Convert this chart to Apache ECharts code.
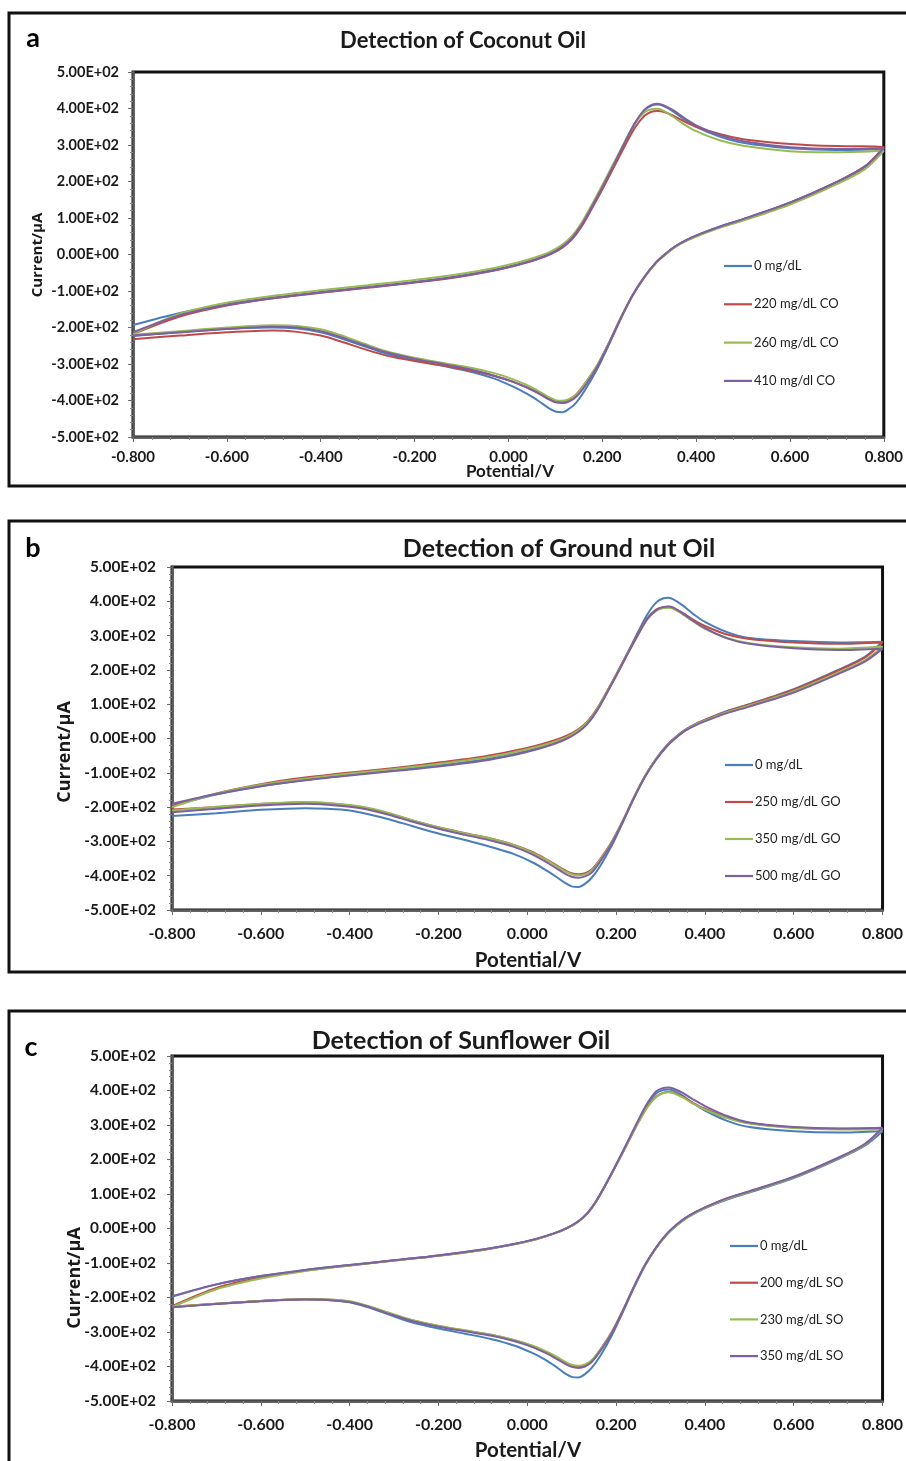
<!DOCTYPE html>
<html><head><meta charset="utf-8">
<script src="https://cdn.jsdelivr.net/npm/echarts@6/dist/echarts.min.js"></script>
<style>html,body{margin:0;padding:0;background:#fff}#c{width:906px;height:1461px}</style>
</head><body><div id="c"></div>
<script>
// ---------- DATA ----------
// forward scan potentials (V) and reverse scan potentials (V)
const FWD_X = [-0.80, -0.70, -0.60, -0.50, -0.40, -0.30, -0.20, -0.10, -0.03, 0.02, 0.06, 0.09, 0.115, 0.135, 0.155, 0.175, 0.20, 0.225, 0.25, 0.27, 0.29, 0.305, 0.318, 0.33, 0.35, 0.375, 0.40, 0.45, 0.50, 0.60, 0.70, 0.80];
const REV_X = [0.80, 0.76, 0.70, 0.60, 0.50, 0.45, 0.41, 0.38, 0.355, 0.335, 0.315, 0.29, 0.265, 0.24, 0.215, 0.19, 0.165, 0.145, 0.13, 0.115, 0.10, 0.085, 0.065, 0.04, 0.01, -0.03, -0.08, -0.14, -0.20, -0.26, -0.31, -0.36, -0.40, -0.45, -0.50, -0.60, -0.70, -0.80];

const Y_TICKS = [-500, -400, -300, -200, -100, 0, 100, 200, 300, 400, 500];
const Y_TICK_LABELS = ['-5.00E+02', '-4.00E+02', '-3.00E+02', '-2.00E+02', '-1.00E+02', '0.00E+00', '1.00E+02', '2.00E+02', '3.00E+02', '4.00E+02', '5.00E+02'];
const X_TICKS = [-0.8, -0.6, -0.4, -0.2, 0, 0.2, 0.4, 0.6, 0.8];
const X_TICK_LABELS = ['-0.800', '-0.600', '-0.400', '-0.200', '0.000', '0.200', '0.400', '0.600', '0.800'];

const PANEL_TITLES = ['Detection of Coconut Oil', 'Detection of Ground nut Oil', 'Detection of Sunflower Oil'];
const PANEL_LETTERS = ['a', 'b', 'c'];
const A_NAMES = ['0 mg/dL', '220 mg/dL CO', '260 mg/dL CO', '410 mg/dl CO'];
const B_NAMES = ['0 mg/dL', '250 mg/dL GO', '350 mg/dL GO', '500 mg/dL GO'];
const C_NAMES = ['0 mg/dL', '200 mg/dL SO', '230 mg/dL SO', '350 mg/dL SO'];

// Panel a (Coconut oil) — current in µA
const A_BLUE_FWD = [-193, -160, -136, -118, -103, -89, -75, -58, -42, -27, -12, 3, 22, 45, 80, 125, 185, 248, 312, 360, 395, 408, 411, 407, 393, 370, 350, 323, 306, 291, 286, 290];
const A_BLUE_REV = [290, 240, 198, 142, 97, 76, 57, 40, 22, 2, -22, -62, -112, -175, -245, -312, -368, -405, -422, -432, -430, -420, -402, -382, -362, -340, -321, -305, -290, -272, -250, -228, -213, -203, -200, -204, -213, -223];
const A_RED_FWD = [-218, -170, -140, -120, -105, -91, -77, -60, -44, -29, -14, 1, 19, 41, 75, 119, 178, 240, 302, 348, 380, 391, 393, 391, 381, 364, 350, 330, 316, 303, 297, 295];
const A_RED_REV = [295, 242, 199, 142, 96, 75, 56, 39, 21, 1, -22, -61, -110, -172, -240, -302, -350, -383, -397, -403, -401, -393, -379, -364, -349, -333, -318, -304, -292, -277, -258, -237, -222, -212, -208, -213, -222, -232];
const A_GREEN_FWD = [-218, -162, -132, -113, -98, -84, -70, -53, -37, -22, -7, 8, 27, 50, 85, 130, 190, 252, 314, 360, 390, 398, 399, 394, 378, 356, 338, 313, 298, 283, 280, 284];
const A_GREEN_REV = [284, 234, 193, 137, 93, 73, 54, 38, 20, 0, -23, -62, -110, -172, -240, -302, -350, -384, -396, -401, -399, -390, -375, -358, -342, -325, -310, -297, -283, -265, -243, -220, -205, -196, -194, -200, -210, -220];
const A_PURPLE_FWD = [-213, -166, -138, -119, -104, -90, -76, -59, -43, -28, -13, 2, 21, 44, 79, 124, 184, 247, 312, 361, 397, 410, 413, 409, 396, 374, 354, 327, 310, 294, 289, 292];
const A_PURPLE_REV = [292, 241, 199, 142, 97, 76, 57, 40, 22, 2, -21, -61, -111, -173, -242, -306, -357, -389, -402, -407, -405, -396, -381, -365, -349, -332, -315, -300, -286, -268, -247, -225, -210, -200, -198, -204, -213, -222];

// Panel b (Ground nut oil)
const B_BLUE_FWD = [-195, -163, -139, -121, -106, -93, -79, -62, -45, -30, -14, 2, 21, 44, 79, 124, 184, 247, 312, 361, 396, 408, 410, 405, 388, 362, 340, 310, 293, 284, 280, 282];
const B_BLUE_REV = [282, 238, 200, 144, 100, 80, 60, 43, 25, 5, -19, -59, -110, -174, -245, -313, -370, -406, -424, -433, -431, -421, -403, -382, -360, -337, -317, -296, -277, -255, -236, -220, -210, -205, -203, -208, -218, -226];
const B_RED_FWD = [-197, -160, -133, -114, -99, -86, -70, -53, -36, -21, -6, 9, 27, 49, 83, 127, 186, 247, 307, 350, 376, 383, 384, 380, 366, 345, 328, 303, 290, 280, 276, 280];
const B_RED_REV = [280, 236, 198, 142, 99, 79, 59, 42, 24, 4, -20, -60, -110, -172, -240, -302, -350, -382, -393, -396, -393, -384, -369, -350, -330, -310, -292, -276, -259, -238, -219, -203, -195, -189, -186, -191, -200, -207];
const B_GREEN_FWD = [-200, -161, -135, -117, -102, -89, -74, -57, -40, -25, -10, 5, 24, 47, 81, 125, 184, 245, 304, 347, 372, 380, 381, 377, 362, 340, 320, 293, 278, 266, 262, 268];
const B_GREEN_REV = [268, 228, 192, 138, 96, 77, 57, 41, 23, 3, -21, -61, -111, -173, -241, -304, -352, -385, -396, -399, -396, -387, -371, -352, -332, -311, -293, -277, -259, -238, -218, -202, -194, -188, -185, -190, -199, -210];
const B_PURPLE_FWD = [-190, -162, -139, -122, -108, -95, -82, -65, -48, -32, -16, 0, 19, 42, 77, 122, 182, 244, 304, 348, 374, 383, 385, 381, 365, 342, 322, 292, 276, 263, 258, 262];
const B_PURPLE_REV = [262, 224, 188, 134, 93, 74, 55, 39, 22, 2, -22, -62, -112, -174, -243, -307, -357, -391, -402, -406, -403, -394, -378, -358, -337, -316, -298, -281, -263, -242, -223, -207, -199, -193, -190, -195, -205, -215];

// Panel c (Sunflower oil)
const C_BLUE_FWD = [-198, -162, -138, -120, -106, -92, -78, -61, -45, -30, -14, 2, 21, 44, 79, 124, 184, 247, 311, 358, 391, 401, 403, 399, 385, 362, 342, 312, 294, 282, 278, 282];
const C_BLUE_REV = [282, 240, 201, 146, 104, 84, 64, 46, 27, 7, -17, -57, -108, -172, -243, -311, -368, -404, -422, -432, -430, -420, -401, -380, -360, -339, -321, -305, -290, -272, -250, -228, -214, -207, -205, -210, -218, -228];
const C_RED_FWD = [-225, -172, -142, -122, -107, -93, -79, -62, -46, -31, -15, 1, 20, 43, 78, 123, 183, 245, 308, 352, 382, 393, 396, 393, 382, 363, 347, 322, 306, 293, 289, 290];
const C_RED_REV = [290, 244, 204, 149, 107, 87, 66, 48, 29, 9, -15, -55, -106, -169, -238, -301, -350, -383, -396, -400, -397, -388, -373, -356, -340, -324, -309, -296, -283, -266, -246, -225, -212, -206, -205, -210, -218, -227];
const C_GREEN_FWD = [-228, -176, -145, -123, -107, -93, -79, -62, -46, -31, -15, 1, 20, 43, 78, 123, 183, 245, 307, 351, 381, 392, 395, 392, 380, 361, 345, 320, 304, 291, 287, 288];
const C_GREEN_REV = [288, 243, 203, 148, 106, 86, 65, 47, 28, 8, -16, -56, -107, -170, -239, -302, -350, -382, -394, -398, -395, -386, -371, -355, -339, -323, -308, -295, -282, -265, -245, -224, -211, -206, -205, -210, -218, -227];
const C_PURPLE_FWD = [-196, -162, -138, -120, -106, -92, -78, -61, -45, -30, -14, 2, 21, 44, 79, 124, 185, 249, 314, 362, 397, 407, 409, 405, 393, 373, 355, 326, 307, 294, 290, 292];
const C_PURPLE_REV = [292, 245, 205, 150, 108, 88, 67, 49, 30, 10, -14, -55, -106, -170, -240, -304, -354, -387, -400, -404, -401, -392, -377, -360, -343, -326, -311, -298, -285, -268, -248, -226, -213, -207, -206, -211, -219, -228];

// ---------- STYLE / LAYOUT ----------
const COLORS = ['#4A7EBB', '#BE4B48', '#98B954', '#7D60A0'];
const FONT = 'Lato, "Open Sans", sans-serif';
const TXT = '#1a1a1a';

function loop(fwd, rev) {
  if (fwd.length !== FWD_X.length || rev.length !== REV_X.length) throw new Error('length mismatch ' + fwd.length + ' ' + rev.length);
  return FWD_X.map((x, i) => [x, fwd[i]]).concat(REV_X.map((x, i) => [x, rev[i]]));
}

const panels = [
  { names: A_NAMES, data: [[A_BLUE_FWD, A_BLUE_REV], [A_RED_FWD, A_RED_REV], [A_GREEN_FWD, A_GREEN_REV], [A_PURPLE_FWD, A_PURPLE_REV]],
    grid: { left: 133, top: 72, width: 753, height: 365 },
    yFont: 14.5, xFont: 15, yMargin: 14, xMargin: 13,
    legend: { left: 724, top: 259.5, gap: 25.3, font: 13 },
    title: { x: 463, y: 41, size: 22 }, letter: { x: 33, y: 38 },
    xname: { x: 510, y: 472, size: 17 }, yname: { x: 38, y: 255, size: 15 },
    box: { x: 9, y: 13, w: 920, h: 473 } },
  { names: B_NAMES, data: [[B_BLUE_FWD, B_BLUE_REV], [B_RED_FWD, B_RED_REV], [B_GREEN_FWD, B_GREEN_REV], [B_PURPLE_FWD, B_PURPLE_REV]],
    grid: { left: 172, top: 567, width: 712, height: 343 },
    yFont: 15.4, xFont: 16, yMargin: 16, xMargin: 16,
    legend: { left: 725, top: 758.5, gap: 24, font: 13 },
    title: { x: 559, y: 549, size: 25 }, letter: { x: 33, y: 548 },
    xname: { x: 528, y: 960, size: 20.5 }, yname: { x: 65, y: 752, size: 18 },
    box: { x: 9, y: 521, w: 920, h: 451 } },
  { names: C_NAMES, data: [[C_BLUE_FWD, C_BLUE_REV], [C_RED_FWD, C_RED_REV], [C_GREEN_FWD, C_GREEN_REV], [C_PURPLE_FWD, C_PURPLE_REV]],
    grid: { left: 172, top: 1056, width: 712, height: 345 },
    yFont: 15.4, xFont: 16, yMargin: 16, xMargin: 16,
    legend: { left: 730, top: 1239.5, gap: 23.7, font: 13 },
    title: { x: 461, y: 1041, size: 25 }, letter: { x: 31, y: 1047 },
    xname: { x: 528, y: 1450, size: 20.5 }, yname: { x: 75, y: 1278, size: 18 },
    box: { x: 9, y: 1011, w: 920, h: 470 } }
];

function yFmt(v) { const i = Y_TICKS.indexOf(Math.round(v)); return i >= 0 ? Y_TICK_LABELS[i] : ''; }
function xFmt(v) { const i = X_TICKS.findIndex(t => Math.abs(t - v) < 1e-6); return i >= 0 ? X_TICK_LABELS[i] : ''; }

const option = { animation: false, backgroundColor: '#fff', grid: [], xAxis: [], yAxis: [], series: [], legend: [], graphic: [] };

panels.forEach((p, k) => {
  option.grid.push(Object.assign({ show: true, borderColor: '#111', borderWidth: 3, backgroundColor: 'transparent', containLabel: false }, p.grid));
  option.xAxis.push({
    type: 'value', gridIndex: k, min: -0.8, max: 0.8, interval: 0.2,
    axisLine: { show: true, onZero: false, lineStyle: { color: '#5a5a5a', width: 2.5 } },
    axisTick: { show: true, inside: false, length: 5, lineStyle: { color: '#6a6a6a', width: 1 } },
    minorTick: { show: true, splitNumber: 5, length: 3, lineStyle: { color: '#8a8a8a', width: 1 } },
    splitLine: { show: false },
    axisLabel: { formatter: xFmt, margin: p.xMargin, color: TXT, fontFamily: FONT, fontWeight: 'bold', fontSize: p.xFont, showMinLabel: true, showMaxLabel: true }
  });
  option.yAxis.push({
    type: 'value', gridIndex: k, min: -500, max: 500, interval: 100,
    axisLine: { show: true, onZero: false, lineStyle: { color: '#5a5a5a', width: 2.5 } },
    axisTick: { show: true, inside: false, length: 5, lineStyle: { color: '#6a6a6a', width: 1 } },
    minorTick: { show: true, splitNumber: 5, length: 3, lineStyle: { color: '#8a8a8a', width: 1 } },
    splitLine: { show: false },
    axisLabel: { formatter: yFmt, margin: p.yMargin, color: TXT, fontFamily: FONT, fontWeight: 'bold', fontSize: p.yFont }
  });
  p.data.forEach((d, j) => {
    option.series.push({
      type: 'line', name: p.names[j], xAxisIndex: k, yAxisIndex: k,
      data: loop(d[0], d[1]), showSymbol: false, symbol: 'none', smooth: 0.3,
      lineStyle: { color: COLORS[j], width: 2 }, itemStyle: { color: COLORS[j] },
      emphasis: { disabled: true }, silent: true, z: 2 + j
    });
  });
  option.legend.push({
    data: p.names.map((n, j) => ({ name: n, icon: 'rect', itemStyle: { color: COLORS[j], borderWidth: 0 } })),
    orient: 'vertical', left: p.legend.left, top: p.legend.top, itemGap: p.legend.gap, itemWidth: 28, itemHeight: 2.2,
    padding: 0, selectedMode: false,
    textStyle: { color: '#222', fontFamily: FONT, fontSize: p.legend.font, padding: [0, 0, 0, -3] }
  });
  const g = option.graphic;
  g.push({ type: 'rect', silent: true, shape: { x: p.box.x, y: p.box.y, width: p.box.w, height: p.box.h }, style: { fill: 'none', stroke: '#111', lineWidth: 3 }, z: 0 });
  g.push({ type: 'text', silent: true, x: p.title.x, y: p.title.y, style: { text: PANEL_TITLES[k], fill: TXT, font: 'bold ' + p.title.size + 'px ' + FONT, textAlign: 'center', textVerticalAlign: 'middle' } });
  g.push({ type: 'text', silent: true, x: p.letter.x, y: p.letter.y, style: { text: PANEL_LETTERS[k], fill: '#000', font: 'bold 27px ' + FONT, textAlign: 'center', textVerticalAlign: 'middle' } });
  g.push({ type: 'text', silent: true, x: p.xname.x, y: p.xname.y, style: { text: 'Potential/V', fill: TXT, font: 'bold ' + p.xname.size + 'px ' + FONT, textAlign: 'center', textVerticalAlign: 'middle' } });
  g.push({ type: 'text', silent: true, x: p.yname.x, y: p.yname.y, rotation: Math.PI / 2, style: { text: 'Current/μA', fill: TXT, font: 'bold ' + p.yname.size + 'px "Open Sans", sans-serif', textAlign: 'center', textVerticalAlign: 'middle' } });
});

const chart = echarts.init(document.getElementById('c'), null, { renderer: 'canvas', width: 906, height: 1461 });
chart.setOption(option);
</script>
</body></html>
